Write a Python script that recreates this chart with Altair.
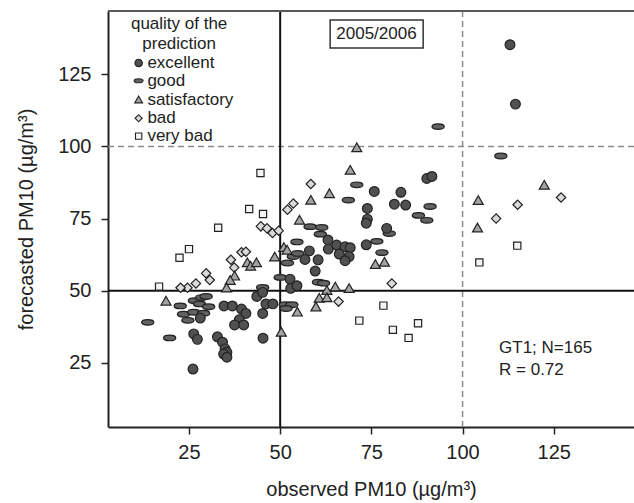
import altair as alt
import pandas as pd

categories = ["excellent", "good", "satisfactory", "bad", "very bad"]

excellent_x = [28.1, 26.3, 27.3, 26.1, 34.6, 36.9, 39.4, 40.6, 38.8, 37.5, 40.0, 32.8, 34.2, 34.9, 35.4, 34.5, 35.4,
               45.2, 45.3, 43.6, 46.1, 48.0, 45.2, 52.7, 52.9, 54.6, 75.8, 83.1, 81.3, 84.4, 73.9, 73.9, 73.6, 79.2,
               63.1, 63.2, 65.5, 67.8, 69.2, 66.2, 68.9, 67.8, 73.6, 58.0, 56.8, 60.4, 59.6, 90.2, 91.6, 113.0, 114.5]
excellent_y = [40.5, 35.0, 33.1, 22.8, 44.7, 44.7, 43.6, 42.1, 39.9, 38.1, 38.1, 34.0, 32.1, 29.8, 28.6, 28.0, 26.9,
               42.1, 33.5, 48.0, 45.4, 45.4, 49.4, 54.0, 50.8, 51.7, 84.4, 84.1, 80.0, 79.7, 78.5, 74.8, 73.4, 71.6,
               67.6, 64.4, 65.8, 65.2, 64.9, 62.7, 61.8, 60.4, 65.9, 63.8, 60.8, 60.7, 56.8, 88.9, 89.6, 135.3, 114.7]

good_x = [13.7, 19.7, 22.6, 23.5, 24.7, 26.3, 26.5, 28.5, 29.7, 27.9, 30.4, 29.0, 45.2, 50.0, 54.6, 53.6, 52.0, 51.4,
          53.2, 51.6, 54.8, 71.0, 91.1, 87.9, 90.2, 68.7, 79.9, 58.2, 61.4, 61.0, 76.5, 77.9, 60.5, 61.9, 93.3, 110.5]
good_y = [39.0, 33.6, 44.7, 41.8, 39.7, 42.5, 46.5, 47.6, 48.0, 45.4, 44.4, 42.2, 51.1, 54.6, 66.9, 61.8, 59.6, 45.1,
          45.1, 43.8, 62.9, 86.7, 79.2, 76.1, 74.4, 81.4, 69.8, 72.2, 71.9, 69.6, 67.1, 63.2, 52.9, 52.6, 106.9, 96.7]

satisfactory_x = [55.3, 51.0, 51.9, 48.5, 41.0, 41.9, 43.5, 37.5, 36.3, 35.3, 18.7, 50.3, 54.7, 58.4, 63.5, 76.1,
                  78.6, 62.8, 65.1, 68.9, 60.7, 62.8, 59.8, 71.0, 69.2, 122.4, 104.3, 104.1]
satisfactory_y = [74.6, 65.1, 64.2, 61.8, 59.8, 58.6, 59.8, 55.2, 53.7, 51.1, 46.5, 35.7, 42.7, 81.5, 83.8, 59.2,
                  60.0, 50.2, 51.4, 50.9, 47.5, 47.7, 44.5, 99.7, 91.9, 86.7, 81.4, 71.9]

bad_x = [53.6, 52.0, 44.7, 46.4, 47.9, 49.6, 39.4, 40.6, 36.5, 37.4, 29.7, 30.7, 26.9, 24.6, 22.7, 58.4, 80.6, 66.0,
         127.0, 115.1, 109.2]
bad_y = [80.2, 78.1, 72.3, 71.6, 70.0, 70.8, 63.3, 63.5, 60.7, 58.0, 56.0, 53.7, 52.5, 51.0, 51.0, 87.0, 52.5, 46.2,
         82.3, 79.8, 75.0]

verybad_x = [44.6, 41.5, 45.3, 33.0, 25.0, 22.4, 16.8, 78.3, 71.7, 80.9, 87.8, 85.2, 115.0, 104.6]
verybad_y = [90.8, 78.3, 76.6, 71.8, 64.4, 61.4, 51.4, 44.8, 39.6, 36.4, 38.7, 33.6, 65.6, 59.8]

tick_values = [25, 50, 75, 100, 125]
solid_refs = [50]
dashed_refs = [100]
legend_title = ["quality of the", "prediction"]
season_label = "2005/2006"
stats_labels = ["GT1; N=165", "R = 0.72"]

series = [
    ("very bad", verybad_x, verybad_y),
    ("bad", bad_x, bad_y),
    ("satisfactory", satisfactory_x, satisfactory_y),
    ("good", good_x, good_y),
    ("excellent", excellent_x, excellent_y),
]
rows = []
for name, xs, ys in series:
    for xv, yv in zip(xs, ys):
        rows.append({"observed": xv, "forecasted": yv, "quality": name})
df = pd.DataFrame(rows)

XDOM = [2.8, 147]
YDOM = [2.7, 147]
FONT = "Liberation Sans"
DARK = "#222222"

xscale = alt.Scale(domain=XDOM, nice=False, zero=False)
yscale = alt.Scale(domain=YDOM, nice=False, zero=False)

ellipse = "M-1,0A1,0.46,0,1,0,1,0A1,0.46,0,1,0,-1,0Z"
shape_scale = alt.Scale(domain=categories, range=["circle", ellipse, "triangle-up", "diamond", "square"])
fill_scale = alt.Scale(domain=categories, range=["#505050", "#626262", "#a3a3a3", "#dadada", "#f4f4f4"])

# marker areas per class (style, not data)
size_expr_plot = ("datum.quality == 'excellent' ? 95 : datum.quality == 'good' ? 150 : "
                  "datum.quality == 'satisfactory' ? 100 : datum.quality == 'bad' ? 88 : 52")
size_expr_legend = ("datum.quality == 'excellent' ? 55 : datum.quality == 'good' ? 80 : "
                    "datum.quality == 'satisfactory' ? 62 : datum.quality == 'bad' ? 50 : 40")

points = alt.Chart(df).transform_calculate(sz=size_expr_plot).mark_point(
    filled=True, stroke=DARK, strokeWidth=1.2, opacity=1).encode(
    x=alt.X("observed:Q", scale=xscale,
            axis=alt.Axis(values=tick_values, title="observed PM10 (µg/m³)")),
    y=alt.Y("forecasted:Q", scale=yscale,
            axis=alt.Axis(values=tick_values, title="forecasted PM10 (µg/m³)")),
    shape=alt.Shape("quality:N", scale=shape_scale, legend=None),
    fill=alt.Fill("quality:N", scale=fill_scale, legend=None),
    size=alt.Size("sz:Q", scale=None, legend=None),
)

solid_df = pd.DataFrame({"v": solid_refs})
dashed_df = pd.DataFrame({"v": dashed_refs})
vsolid = alt.Chart(solid_df).mark_rule(color="#111111", strokeWidth=2).encode(x=alt.X("v:Q", scale=xscale))
hsolid = alt.Chart(solid_df).mark_rule(color="#111111", strokeWidth=2).encode(y=alt.Y("v:Q", scale=yscale))
vdash = alt.Chart(dashed_df).mark_rule(color="#8a8a8a", strokeWidth=1.5, strokeDash=[6, 4]).encode(
    x=alt.X("v:Q", scale=xscale))
hdash = alt.Chart(dashed_df).mark_rule(color="#8a8a8a", strokeWidth=1.5, strokeDash=[6, 4]).encode(
    y=alt.Y("v:Q", scale=yscale))

# legend (drawn in the upper-left quadrant, positioned in data units)
leg_rows_y = [129.0, 122.8, 116.3, 109.8, 103.6]
legend_df = pd.DataFrame({"quality": categories, "sx": [11.2] * 5, "lx": [13.6] * 5, "ly": leg_rows_y})
legend_sym = alt.Chart(legend_df).transform_calculate(sz=size_expr_legend).mark_point(
    filled=True, stroke=DARK, strokeWidth=1.1, opacity=1).encode(
    x=alt.X("sx:Q", scale=xscale), y=alt.Y("ly:Q", scale=yscale),
    shape=alt.Shape("quality:N", scale=shape_scale, legend=None),
    fill=alt.Fill("quality:N", scale=fill_scale, legend=None),
    size=alt.Size("sz:Q", scale=None, legend=None),
)
legend_lab = alt.Chart(legend_df).mark_text(font=FONT, fontSize=17, color=DARK, align="left",
                                             baseline="middle").encode(
    x=alt.X("lx:Q", scale=xscale), y=alt.Y("ly:Q", scale=yscale), text="quality:N")
ltitle_df = pd.DataFrame({"t": legend_title, "x": [22.3, 22.3], "y": [142.6, 135.7]})
legend_title_mark = alt.Chart(ltitle_df).mark_text(font=FONT, fontSize=17, color=DARK, align="center",
                                                    baseline="middle").encode(
    x=alt.X("x:Q", scale=xscale), y=alt.Y("y:Q", scale=yscale), text="t:N")

# annotations
season_df = pd.DataFrame({"label": [season_label], "x": [76.4], "y": [139.1],
                          "x0": [63.7], "x1": [89.2], "y0": [134.2], "y1": [143.9]})
season_box = alt.Chart(season_df).mark_rect(fill="white", stroke="#333333", strokeWidth=1.5).encode(
    x=alt.X("x0:Q", scale=xscale), x2="x1:Q", y=alt.Y("y0:Q", scale=yscale), y2="y1:Q")
season_text = alt.Chart(season_df).mark_text(font=FONT, fontSize=17, color=DARK, align="center",
                                              baseline="middle").encode(
    x=alt.X("x:Q", scale=xscale), y=alt.Y("y:Q", scale=yscale), text="label:N")

stats_df = pd.DataFrame({"label": stats_labels, "x": [110.0, 110.0], "y": [30.1, 22.6]})
stats_text = alt.Chart(stats_df).mark_text(font=FONT, fontSize=17, color=DARK, align="left",
                                            baseline="middle").encode(
    x=alt.X("x:Q", scale=xscale), y=alt.Y("y:Q", scale=yscale), text="label:N")

top_border = alt.Chart(solid_df).mark_rule(color="#5a5a5a", strokeWidth=2).encode(
    x=alt.value(0), x2=alt.value(526), y=alt.value(0))

chart = alt.layer(
    vdash, hdash, vsolid, hsolid, points, legend_sym, legend_lab, legend_title_mark,
    season_box, season_text, stats_text, top_border
).properties(
    width=526, height=416,
    autosize=alt.AutoSizeParams(type="none"),
    padding={"left": 108, "top": 11, "right": 0, "bottom": 76},
).configure_view(stroke=None).configure_axis(
    grid=False, domainColor=DARK, domainWidth=2, tickColor=DARK, tickWidth=1.5, tickSize=7,
    labelFont=FONT, labelFontSize=20, labelColor=DARK, titleFont=FONT, titleFontSize=20,
    titleFontWeight="normal", titleColor=DARK,
).configure_axisX(labelPadding=8, titlePadding=17).configure_axisY(labelPadding=10, titlePadding=21)

chart.save("out.html", embed_options={"renderer": "svg", "actions": False})
